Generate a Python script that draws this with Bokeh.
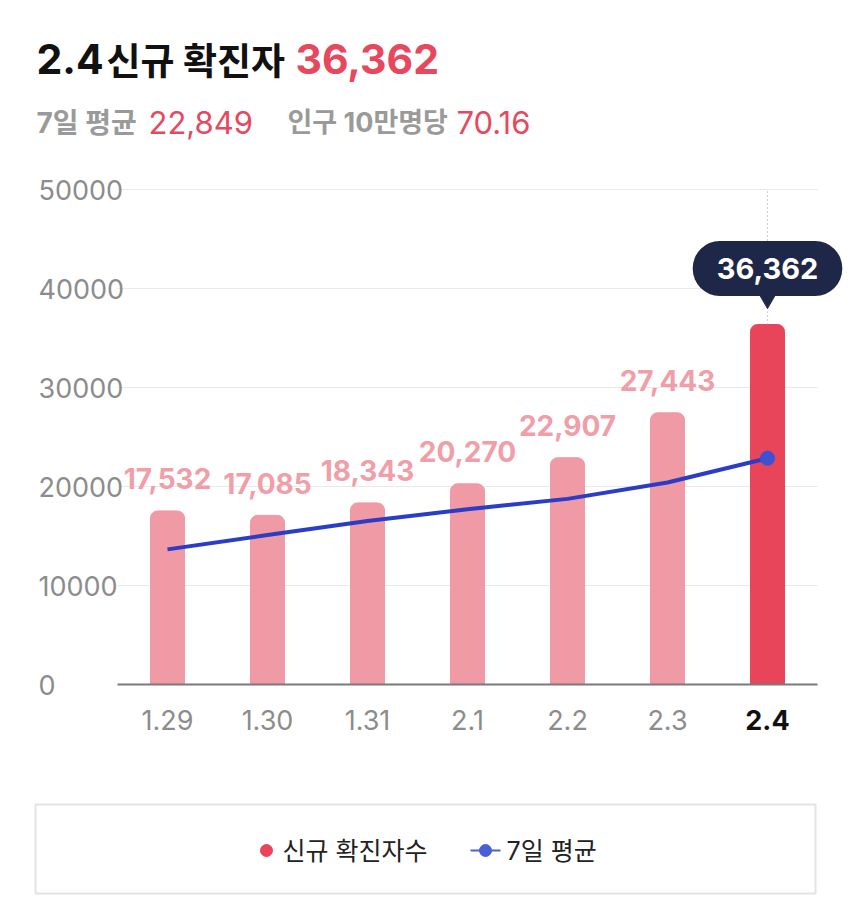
from bokeh.plotting import figure
from bokeh.models import Range1d, Label, ColumnDataSource
from bokeh.core.properties import value
from bokeh.embed import file_html
from bokeh.resources import INLINE

# ---------------- data ----------------
dates = ["1.29", "1.30", "1.31", "2.1", "2.2", "2.3", "2.4"]
new_cases = [17532, 17085, 18343, 20270, 22907, 27443, 36362]
avg7 = [13650, 15100, 16520, 17700, 18750, 20400, 22849]
y_ticks = [0, 10000, 20000, 30000, 40000, 50000]

title_date = "2.4"
title_label = "신규 확진자"
today_total = 36362
avg_label = "7일 평균"
avg_today = 22849
per100k_label = "인구 10만명당"
per100k = 70.16
legend_labels = ["신규 확진자수", "7일 평균"]

# ---------------- style / layout ----------------
WIN_W, WIN_H = 850, 900
PLOT_L, PLOT_R = 117, 817          # plot area, pixels
BASE_Y, TOP_Y = 684, 189           # pixel rows of 0 and of the top tick
FONT = "Inter, 'Noto Sans CJK KR', sans-serif"
KFONT = "'Noto Sans CJK KR', sans-serif"
RED = "#e8485e"
BAR_LIGHT = "#ef9aa5"
BAR_STRONG = "#e8445a"
LABEL_PINK = "#f09ea8"
GRAY = "#9a9a9a"
AXIS_GRAY = "#8c8c8c"
NAVY = "#1e2748"
BLUE = "#2b3cc6"
BLUE_DOT = "#3b52d4"

Y_MAX = y_ticks[-1]
CAT_PX = (PLOT_R - PLOT_L) / len(dates)
UPP = Y_MAX / (BASE_Y - TOP_Y)     # data units per pixel

p = figure(width=WIN_W, height=WIN_H,
           x_range=Range1d(-PLOT_L / CAT_PX, (WIN_W - PLOT_L) / CAT_PX),
           y_range=Range1d(-(WIN_H - BASE_Y) * UPP, Y_MAX + TOP_Y * UPP),
           toolbar_location=None, output_backend="svg", min_border=0,
           x_axis_location=None, y_axis_location=None, outline_line_color=None)
p.grid.visible = False
p.extra_x_ranges = {"px": Range1d(0, WIN_W)}
p.extra_y_ranges = {"px": Range1d(WIN_H, 0)}


def ptext(x, y, text, color, size, style="bold", font=FONT, align="left",
          xr="px", yr="px", baseline="middle", y_offset=0):
    n = len(text) if isinstance(text, list) else 1
    xs_ = x if isinstance(x, list) else [x] * n
    ys_ = y if isinstance(y, list) else [y] * n
    ts_ = text if isinstance(text, list) else [text]
    kw = {}
    if xr:
        kw["x_range_name"] = xr
    if yr:
        kw["y_range_name"] = yr
    p.text(x=xs_, y=ys_, text=ts_, text_color=color, text_font=value(font),
           text_font_size=f"{size}px", text_font_style=style, text_align=align,
           text_baseline=baseline, y_offset=y_offset, **kw)


# ---------------- header ----------------
ptext(36, 58, title_date, "#111111", 41)
ptext(106, 58, title_label, "#111111", 37, font=KFONT)
ptext(295, 58, f"{today_total:,}", RED, 41)
ptext(36, 122, avg_label, GRAY, 28)
ptext(148, 122, f"{avg_today:,}", RED, 31, style="normal")
ptext(287, 122, per100k_label, GRAY, 27)
ptext(456, 122, f"{per100k:.2f}", RED, 31, style="normal")

# ---------------- grid + y tick labels ----------------
n = len(dates)
p.segment(x0=[0] * len(y_ticks), x1=[n] * len(y_ticks), y0=y_ticks, y1=y_ticks,
          line_color="#e9e9e9", line_width=1)
ptext(38, y_ticks, [str(t) for t in y_ticks], AXIS_GRAY, 27, style="normal", yr=None)

# ---------------- bars ----------------
xs = [i + 0.5 for i in range(n)]
colors = [BAR_LIGHT] * (n - 1) + [BAR_STRONG]
src = ColumnDataSource(dict(x=xs, top=new_cases, color=colors))
p.vbar(x="x", top="top", width=0.34, color="color", source=src, border_radius=(7, 7, 0, 0))

# baseline (x axis line)
p.segment(x0=[0], x1=[n], y0=[0], y1=[0], line_color="#7a7a7a", line_width=2)

# x tick labels
ptext(xs[:-1], 0, dates[:-1], AXIS_GRAY, 27, style="normal", align="center",
      xr=None, yr=None, y_offset=35)
ptext([xs[-1]], 0, [dates[-1]], "#111111", 27, style="bold", align="center",
      xr=None, yr=None, y_offset=35)

# value labels
lab_src = ColumnDataSource(dict(x=xs[:-1], y=new_cases[:-1],
                                text=[f"{v:,}" for v in new_cases[:-1]]))
p.text(x="x", y="y", text="text", source=lab_src, text_align="center",
       text_baseline="middle", y_offset=-32, text_color=LABEL_PINK,
       text_font=value(FONT), text_font_size="28px", text_font_style="bold")

# dotted guide at last day
p.segment(x0=[xs[-1]], y0=[new_cases[-1]], x1=[xs[-1]], y1=[Y_MAX],
          line_color="#a0a0a0", line_width=1, line_dash="1 3")

# 7-day average
p.line(xs, avg7, line_color=BLUE, line_width=4)
p.scatter([xs[-1]], [avg7[-1]], size=14, color=BLUE_DOT)

# tooltip
p.scatter([xs[-1]], [new_cases[-1] + 27.5 * UPP], marker="inverted_triangle",
          size=20, color=NAVY)
p.add_layout(Label(x=xs[-1], y=new_cases[-1], y_offset=56, text=f"{new_cases[-1]:,}",
                   text_align="center", text_baseline="middle", text_color="white",
                   text_font=FONT, text_font_size="29px", text_font_style="bold",
                   background_fill_color=NAVY, border_radius=27,
                   padding=dict(left=24, right=24, top=17, bottom=17)))

# ---------------- legend ----------------
p.quad(left=[35], right=[815], top=[804], bottom=[893], fill_color="white",
       line_color="#e3e3e3", line_width=2, x_range_name="px", y_range_name="px")
p.scatter([266], [850], size=12, color=BAR_STRONG, x_range_name="px", y_range_name="px")
ptext(282, 850, legend_labels[0], "#222222", 25, style="normal")
p.line([470, 500], [850, 850], line_color="#4a5fd6", line_width=2,
       x_range_name="px", y_range_name="px")
p.scatter([485], [850], size=12, color="#4a5fd6", x_range_name="px", y_range_name="px")
ptext(506, 850, legend_labels[1], "#222222", 25, style="normal")

open("out.html", "w").write(file_html(p, INLINE))
